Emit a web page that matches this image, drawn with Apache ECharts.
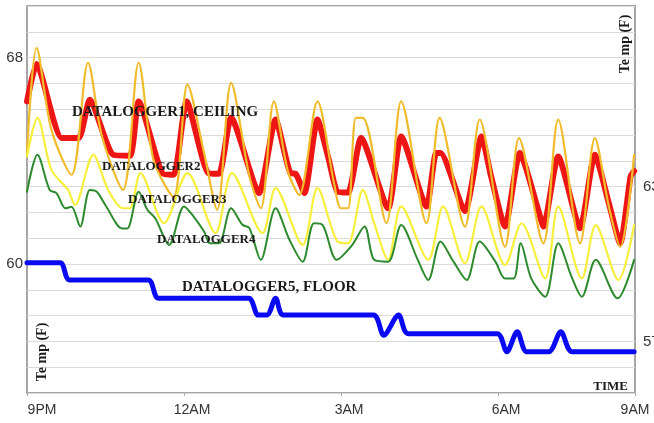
<!DOCTYPE html>
<html>
<head>
<meta charset="utf-8">
<script src="https://cdn.jsdelivr.net/npm/echarts@6/dist/echarts.min.js"></script>
<style>
html,body{margin:0;padding:0;background:#fff;}
#chart{width:654px;height:423px;}
</style>
</head>
<body>
<div id="chart"></div>
<script>
// minutes after 9PM
var tickLabels = ['9PM', '12AM', '3AM', '6AM', '9AM'];
var leftYLabels = [60, 68];
var rightYLabels = [57, 63];

var logger1Times = [0, 11, 40, 59, 72, 99, 118, 128, 155, 168, 183, 208, 220, 234, 266, 285, 302, 308, 318, 333, 346, 356, 368, 383, 414, 429, 458, 469, 474, 502, 521, 532, 548, 565, 586, 592, 609, 634, 651, 667, 680, 692, 696];
var logger1Temps = [66.3, 67.75, 64.88, 64.88, 66.37, 64.23, 64.2, 66.3, 63.52, 63.46, 66.3, 63.52, 63.5, 65.67, 62.75, 65.6, 63.52, 63.5, 62.75, 65.6, 64.04, 62.8, 62.77, 64.88, 62.16, 64.94, 62.23, 64.3, 64.3, 62.05, 64.94, 63.4, 61.45, 64.3, 62.1, 61.45, 64.17, 61.39, 64.23, 62.36, 60.8, 63.4, 63.6];

var logger2Times = [0, 11, 28, 51, 70, 86, 110, 128, 145, 168, 184, 203, 218, 234, 255, 268, 283, 299, 312, 333, 352, 360, 368, 377, 385, 412, 429, 458, 473, 502, 519, 548, 564, 592, 609, 634, 651, 667, 680, 696];
var logger2Temps = [64.3, 68.38, 65.2, 63.46, 67.8, 64.94, 62.87, 67.8, 64.04, 62.6, 66.95, 64.3, 62.1, 67.02, 63.4, 62.16, 66.3, 63.6, 62.68, 66.3, 63.13, 62.16, 62.16, 65.66, 65.66, 61.58, 66.3, 61.58, 65.66, 61.45, 65.6, 60.67, 64.88, 60.8, 65.6, 60.8, 64.88, 62.23, 60.67, 64.23];

var logger3Times = [0, 12, 28, 47, 55, 76, 93, 110, 118, 130, 157, 184, 216, 235, 270, 285, 316, 333, 356, 368, 385, 398, 414, 429, 460, 477, 502, 521, 548, 567, 594, 609, 636, 652, 678, 696];
var logger3Temps = [64.17, 65.66, 63.65, 62.87, 62.29, 64.23, 62.87, 62.16, 62.16, 63.52, 61.58, 63.52, 61.2, 63.52, 61.2, 62.94, 60.74, 62.94, 60.87, 60.8, 62.87, 61.58, 60.16, 62.23, 60.16, 62.23, 60.03, 62.23, 59.96, 61.58, 59.44, 62.23, 59.44, 61.51, 59.38, 61.51];

var logger4Times = [0, 12, 26, 34, 44, 51, 61, 72, 80, 91, 109, 115, 128, 138, 147, 163, 180, 191, 203, 210, 220, 234, 247, 255, 268, 285, 301, 316, 329, 339, 355, 372, 387, 398, 414, 429, 448, 460, 474, 489, 504, 519, 537, 548, 558, 566, 578, 594, 609, 625, 636, 652, 677, 696];
var logger4Temps = [62.8, 64.23, 62.87, 62.74, 62.16, 62.22, 61.45, 62.87, 62.8, 62.22, 61.38, 61.38, 62.8, 62.1, 61.77, 60.74, 62.23, 61.84, 61.26, 60.8, 60.8, 62.16, 61.52, 61.39, 60.16, 62.16, 60.93, 60.09, 61.58, 61.51, 60.16, 60.7, 61.45, 60.16, 60.09, 61.51, 60.16, 59.38, 60.87, 60.09, 59.38, 60.87, 60.09, 59.44, 59.44, 60.8, 59.44, 58.73, 60.8, 59.44, 58.73, 60.16, 58.67, 60.16];

var logger5Times = [0, 38, 49, 139, 151, 254, 265, 275, 285, 294, 397, 409, 426, 437, 539, 550, 562, 573, 598, 612, 625, 696];
var logger5Temps = [60.05, 60.05, 59.38, 59.38, 58.67, 58.67, 58.02, 58.02, 58.67, 58.02, 58.02, 57.24, 58.02, 57.3, 57.3, 56.6, 57.37, 56.6, 56.6, 57.37, 56.6, 56.6];

function pairs(t, v) { return t.map(function (x, i) { return [x, v[i]]; }); }

var chart = echarts.init(document.getElementById('chart'), null, { renderer: 'canvas' });
var serif = '"Liberation Serif", "DejaVu Serif", serif';
var sans = '"Liberation Sans", Arial, sans-serif';

function lineSeries(name, t, v, color, width, smooth) {
  return {
    name: name, type: 'line', data: pairs(t, v), showSymbol: false, symbol: 'none',
    smooth: smooth, lineStyle: { color: color, width: width, cap: 'round', join: 'round' },
    animation: false
  };
}

function txt(text, x, y, size, align, rot) {
  return {
    type: 'text', x: x, y: y, rotation: rot || 0, z: 100,
    style: {
      text: text, fill: '#1a1a1a', font: 'bold ' + size + 'px ' + serif,
      align: align || 'left', verticalAlign: 'middle'
    }
  };
}

chart.setOption({
  animation: false,
  backgroundColor: '#ffffff',
  grid: { left: 27, right: 19, top: 6, bottom: 30, containLabel: false, outerBoundsMode: 'none', show: true, borderColor: '#a6a6a6', borderWidth: 2, backgroundColor: 'transparent' },
  xAxis: {
    type: 'value', min: 0, max: 697, interval: 180,
    axisLine: { show: false },
    axisTick: { show: true, length: 3, lineStyle: { color: '#aaaaaa' } },
    splitLine: { show: false },
    axisLabel: {
      show: true, showMaxLabel: true, showMinLabel: true, margin: 10,
      fontFamily: sans, fontSize: 14, color: '#333',
      formatter: function (val) {
        if (val === 0) return '{a|' + tickLabels[0] + '}';
        if (val === 180) return '{b|' + tickLabels[1] + '}';
        if (val === 360) return '{b|' + tickLabels[2] + '}';
        if (val === 540) return '{b|' + tickLabels[3] + '}';
        return '{c|' + tickLabels[4] + '}';
      },
      rich: {
        a: { padding: [0, 0, 0, 30], fontFamily: sans, fontSize: 14, color: '#333' },
        b: { padding: [0, 0, 0, 16], fontFamily: sans, fontSize: 14, color: '#333' },
        c: { padding: [0, 0, 0, 0], fontFamily: sans, fontSize: 14, color: '#333' }
      }
    }
  },
  yAxis: [{
    type: 'value', min: 55, max: 70, interval: 1, position: 'left',
    axisLine: { show: false }, axisTick: { show: false },
    splitLine: { show: true, lineStyle: { color: '#dadada', width: 1 } },
    axisLabel: {
      margin: 4, fontFamily: sans, fontSize: 15, color: '#333',
      formatter: function (v) { return leftYLabels.indexOf(v) >= 0 ? String(v) : ''; }
    }
  }, {
    type: 'value', min: 55, max: 70, interval: 1, position: 'right',
    axisLine: { show: false }, axisTick: { show: false }, splitLine: { show: false },
    axisLabel: {
      margin: 8, fontFamily: sans, fontSize: 15, color: '#333',
      formatter: function (v) { return rightYLabels.indexOf(v) >= 0 ? String(v) : ''; }
    }
  }],
  series: [
    lineSeries('DATALOGGER1, CEILING', logger1Times, logger1Temps, '#ee1515', 6, 0.2),
    lineSeries('DATALOGGER2', logger2Times, logger2Temps, '#f0bc2c', 2.2, 0.3),
    lineSeries('DATALOGGER3', logger3Times, logger3Temps, '#f6ef3c', 2.2, 0.3),
    lineSeries('DATALOGGER4', logger4Times, logger4Temps, '#2e8a2e', 2, 0.3),
    lineSeries('DATALOGGER5, FLOOR', logger5Times, logger5Temps, '#0a0af2', 5, 0.3)
  ],
  graphic: [
    txt('DATALOGGER1, CEILING', 72, 112, 15),
    txt('DATALOGGER2', 102, 167, 13),
    txt('DATALOGGER3', 128, 200, 13),
    txt('DATALOGGER4', 157, 240, 13),
    txt('DATALOGGER5, FLOOR', 182, 287, 15),
    txt('TIME', 628, 387, 13, 'right'),
    txt('Te mp (F)', 42, 352, 14, 'center', Math.PI / 2),
    txt('Te mp (F)', 625, 44, 14, 'center', Math.PI / 2)
  ]
});
</script>
</body>
</html>
